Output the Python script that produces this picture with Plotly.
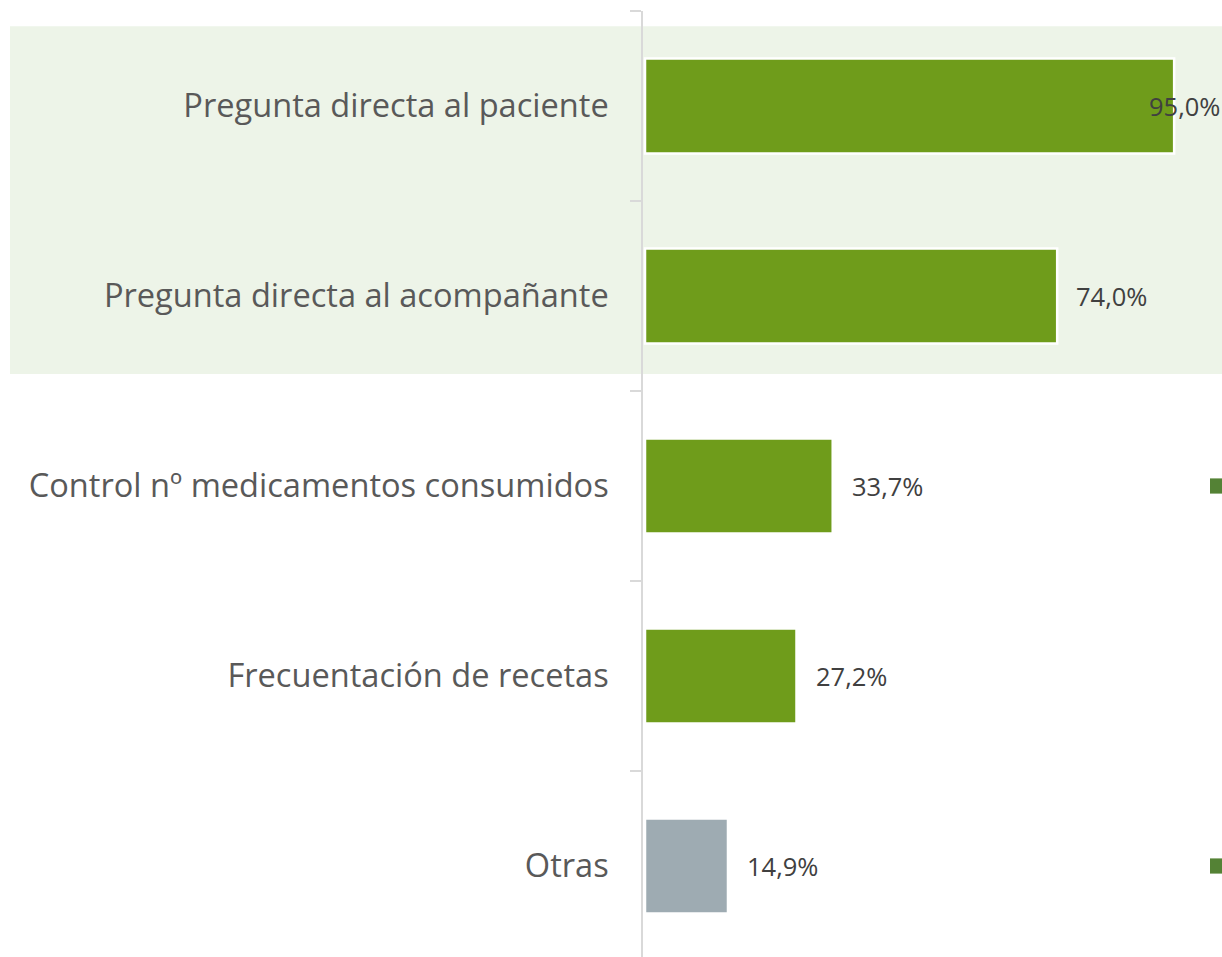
import plotly.graph_objects as go

categories = [
    "Pregunta directa al paciente",
    "Pregunta directa al acompañante",
    "Control nº medicamentos consumidos",
    "Frecuentación de recetas",
    "Otras",
]
values = [95.0, 74.0, 33.7, 27.2, 14.9]
value_labels = ["95,0%", "74,0%", "33,7%", "27,2%", "14,9%"]
bar_colors = ["#6F9C1B", "#6F9C1B", "#6F9C1B", "#6F9C1B", "#9EABB2"]

W, H = 1222, 957
L, T = 643, 11
CAT_PX = 190
px_per_unit = 5.57
x_min = -2 / px_per_unit
x_max = (W - L) / px_per_unit + x_min
plot_h = H - T
y_span = plot_h / CAT_PX

fig = go.Figure()
fig.add_trace(go.Bar(
    x=values, y=categories, orientation="h",
    marker=dict(color=bar_colors, line=dict(color="white", width=2.5)),
    width=0.5, showlegend=False, hoverinfo="skip",
))

fig.add_shape(type="rect", xref="x domain", yref="y", x0=-(L - 10) / (W - L), x1=1.0,
              y0=-0.42, y1=1.41, fillcolor="#EDF4E8", line=dict(width=0),
              layer="below")

label_font = dict(family="Open Sans", size=25.5, color="#404040")
annotations = []
for i, (v, lab) in enumerate(zip(values, value_labels)):
    if i == 0:
        annotations.append(dict(xref="paper", x=1.0, xanchor="right", y=categories[i],
                                yref="y", text=lab, showarrow=False, font=label_font))
    else:
        annotations.append(dict(xref="x", x=v, xanchor="left", xshift=17, y=categories[i],
                                yref="y", text=lab, showarrow=False, font=label_font))

for yc in [2, 4]:
    fig.add_shape(type="rect", xref="paper", yref="y",
                  x0=1 - 12 / (W - L), x1=1.0,
                  y0=yc - 0.04, y1=yc + 0.04,
                  fillcolor="#548235", line=dict(width=0))

fig.update_layout(
    width=W, height=H,
    margin=dict(l=L, r=0, t=T, b=0),
    plot_bgcolor="rgba(0,0,0,0)", paper_bgcolor="white",
    annotations=annotations,
)
fig.update_xaxes(range=[x_min, x_max], visible=False, showgrid=False, zeroline=False)
fig.update_yaxes(
    range=[-0.5 + y_span, -0.5], showline=True, linecolor="#D9D9D9", linewidth=1.5,
    ticks="outside", ticklen=11, tickcolor="#D9D9D9", tickwidth=1.5,
    tickson="boundaries", showgrid=False,
    tickfont=dict(family="Open Sans", size=32.6, color="#595959"),
    ticklabelstandoff=26,
)

fig.write_html(
    "out.html",
    config={"displayModeBar": False},
    post_script="document.body.style.margin='0';document.body.style.overflow='hidden';",
)
